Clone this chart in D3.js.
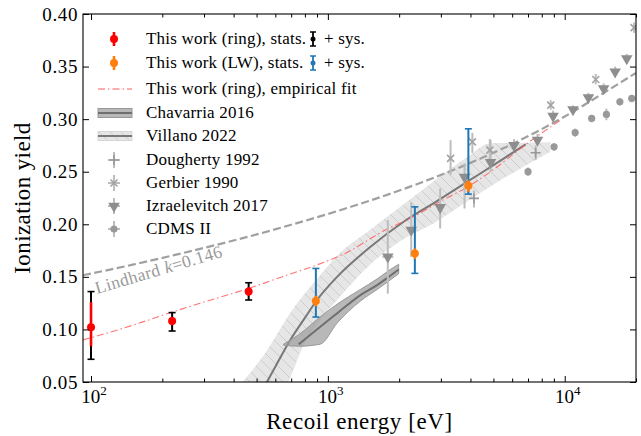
<!DOCTYPE html>
<meta charset="utf-8">
<style>
  body { margin: 0; background: #fff; }
  text { font-family: "Liberation Serif", "Times New Roman", serif; }
</style>
<body>
<svg id="chart" width="641" height="436"></svg>
<script src="https://cdn.jsdelivr.net/npm/d3@7/dist/d3.min.js"></script>
<script>
// ---- data ----
// this work, ring
var ringE = [100, 220, 463];
var ringY = [0.102, 0.108, 0.136];
var ringStatLo = [0.084, 0.104, 0.132];
var ringStatHi = [0.126, 0.112, 0.140];
var ringSysLo = [0.0716, 0.0985, 0.128];
var ringSysHi = [0.136, 0.116, 0.1444];

// this work, LW
var lwE = [890, 2330, 3920];
var lwY = [0.127, 0.1723, 0.2366];
var lwStatLo = [0.122, 0.167, 0.231];
var lwStatHi = [0.132, 0.177, 0.242];
var lwSysLo = [0.1118, 0.1533, 0.2287];
var lwSysHi = [0.158, 0.2166, 0.2908];

// empirical fit (ring)
var fitE = [92.5, 150, 220, 300, 463, 700, 890, 1200, 1667, 2330, 3000, 3920, 5000, 6950, 9600];
var fitY = [0.090, 0.104, 0.1165, 0.126, 0.139, 0.153, 0.161, 0.173, 0.192, 0.208, 0.222, 0.236, 0.252, 0.277, 0.299];

// Lindhard k=0.146
var lindE = [92.5, 150, 250, 400, 700, 1000, 1500, 2500, 4000, 6000, 10000, 15000, 20000];
var lindY = [0.1515, 0.1616, 0.1732, 0.1846, 0.1995, 0.2098, 0.2224, 0.2400, 0.2584, 0.2763, 0.3025, 0.3265, 0.3440];

// Chavarria 2016
var chavBandE = [650, 753, 929, 1094, 1372, 1614, 1808, 1991];
var chavLo = [0.085, 0.084, 0.086, 0.106, 0.127, 0.138, 0.146, 0.153];
var chavHi = [0.086, 0.095, 0.112, 0.124, 0.138, 0.148, 0.156, 0.162];
var chavLineE = [753, 929, 1094, 1372, 1614, 1808, 1991];
var chavY = [0.0858, 0.1026, 0.1153, 0.1327, 0.1422, 0.150, 0.157];

// Villano 2022
var villBandE = [436, 553, 681, 790, 900, 1094, 1514, 2090, 2800, 3882, 4865, 6842, 8700];
var villLo = [0.000, 0.020, 0.050, 0.085, 0.105, 0.128, 0.162, 0.186, 0.201, 0.222, 0.236, 0.256, 0.269];
var villHi = [0.050, 0.080, 0.113, 0.133, 0.148, 0.170, 0.195, 0.219, 0.241, 0.264, 0.277, 0.2775, 0.278];
var villLineE = [500, 553, 600, 694, 800, 900, 1094, 1514, 2090, 2800, 3882, 5356, 6842];
var villY = [0.032, 0.05, 0.0646, 0.09, 0.111, 0.128, 0.150, 0.1786, 0.2024, 0.2202, 0.2405, 0.2605, 0.276];

// Dougherty 1992
var dougE = [4140, 7540];
var dougY = [0.2246, 0.268];
var dougLo = [0.216, 0.261];
var dougHi = [0.232, 0.275];

// Gerbier 1990
var gerbE = [3297, 4075, 4830, 8730, 13520, 19630];
var gerbY = [0.2627, 0.2784, 0.2705, 0.3133, 0.3377, 0.387];
var gerbLo = [0.247, 0.268, 0.256, 0.309, 0.333, 0.382];
var gerbHi = [0.280, 0.287, 0.281, 0.318, 0.343, 0.392];

// Izraelevitch 2017
var izrE = [1791, 2249, 2980, 3776, 4865, 6109, 7675, 8930, 10840, 12590, 14600, 16330, 18280];
var izrY = [0.169, 0.1945, 0.216, 0.245, 0.259, 0.275, 0.280, 0.303, 0.309, 0.3206, 0.329, 0.345, 0.3576];
var izrLo = [0.134, 0.169, 0.196, 0.215, 0.250, 0.270, 0.276, 0.299, 0.305, 0.316, 0.325, 0.341, 0.353];
var izrHi = [0.204, 0.221, 0.234, 0.258, 0.280, 0.281, 0.286, 0.308, 0.313, 0.325, 0.334, 0.350, 0.362];
var izrELo = [1700, 2249, 2980, 3776, 4865, 6109, 7675, 8930, 10840, 12590, 14600, 16330, 18280];
var izrEHi = [1890, 2249, 2980, 3776, 4865, 6109, 7675, 8930, 10840, 12590, 14600, 16330, 18280];

// CDMS II
var cdmsE = [7000, 9020, 11070, 13000, 15000, 17100, 19190];
var cdmsY = [0.250, 0.2737, 0.2873, 0.3007, 0.3045, 0.3165, 0.3197];
var cdmsLo = [0.246, 0.270, 0.283, 0.297, 0.299, 0.313, 0.316];
var cdmsHi = [0.254, 0.277, 0.291, 0.304, 0.310, 0.320, 0.323];

var yTicks = [0.05, 0.10, 0.15, 0.20, 0.25, 0.30, 0.35, 0.40];
var xMajor = [100, 1000, 10000];
var xExp = ["2", "3", "4"];

// ---- layout ----
var svg = d3.select("#chart");
var pL = 83, pR = 636, pT = 14, pB = 382;

var x = d3.scaleLog().domain([92.5, 20000]).range([pL, pR]);
var y = d3.scaleLinear().domain([0.05, 0.40]).range([pB, pT]);

var xMinor = [];
[100, 1000, 10000].forEach(function(b) {
    for (var k = 2; k <= 9; k++) { if (b * k <= 20000) xMinor.push(b * k); }
});

var zip = function(a, b) { return a.map(function(v, i) { return [v, b[i]]; }); };

var defs = svg.append("defs");
defs.append("clipPath").attr("id", "plotclip")
    .append("rect").attr("x", pL).attr("y", pT)
    .attr("width", pR - pL).attr("height", pB - pT);

var hatch = defs.append("pattern").attr("id", "hatch")
    .attr("patternUnits", "userSpaceOnUse").attr("width", 11).attr("height", 11);
hatch.append("rect").attr("width", 11).attr("height", 11).attr("fill", "#e6e6e6");
hatch.append("path").attr("d", "M0,0L11,11M-1,10L1,12M10,-1L12,1")
    .attr("stroke", "#cdcdcd").attr("stroke-width", 1);

var plot = svg.append("g").attr("clip-path", "url(#plotclip)");

var line = d3.line()
    .x(function(d) { return x(d[0]); })
    .y(function(d) { return y(d[1]); })
    .curve(d3.curveMonotoneX);

var area = d3.area()
    .x(function(d) { return x(d[0]); })
    .y0(function(d) { return y(d[1]); })
    .y1(function(d) { return y(d[2]); })
    .curve(d3.curveMonotoneX);

// Villano band
plot.append("path")
    .datum(villBandE.map(function(e, i) { return [e, villLo[i], villHi[i]]; }))
    .attr("d", area).attr("fill", "url(#hatch)").attr("stroke", "none");
plot.append("path").datum(zip(villLineE, villY)).attr("d", line)
    .attr("fill", "none").attr("stroke", "#787878").attr("stroke-width", 2);

// Chavarria band
plot.append("path")
    .datum(chavBandE.map(function(e, i) { return [e, chavLo[i], chavHi[i]]; }))
    .attr("d", area).attr("fill", "#9a9a9a").attr("fill-opacity", 0.7).attr("stroke", "#999");
plot.append("path").datum(zip(chavLineE, chavY)).attr("d", line)
    .attr("fill", "none").attr("stroke", "#6f6f6f").attr("stroke-width", 2);

// Lindhard
plot.append("path").datum(zip(lindE, lindY)).attr("d", line)
    .attr("fill", "none").attr("stroke", "#a0a0a0").attr("stroke-width", 2.2)
    .attr("stroke-dasharray", "8,3.5");

// empirical fit
plot.append("path").datum(zip(fitE, fitY)).attr("d", line)
    .attr("fill", "none").attr("stroke", "#ff5a5a").attr("stroke-opacity", 0.85)
    .attr("stroke-width", 1.1).attr("stroke-dasharray", "7,3,1.5,3");

// grey data sets
function vbars(g, E, lo, hi, color, w) {
    g.selectAll(null).data(E).enter().append("line")
        .attr("x1", function(d) { return x(d); }).attr("x2", function(d) { return x(d); })
        .attr("y1", function(d, i) { return y(lo[i]); })
        .attr("y2", function(d, i) { return y(hi[i]); })
        .attr("stroke", color).attr("stroke-width", w);
}

var grey = plot.append("g");
var barCol = "#bdbdbd";

vbars(grey, dougE, dougLo, dougHi, barCol, 2);
vbars(grey, gerbE, gerbLo, gerbHi, barCol, 2);
vbars(grey, izrE, izrLo, izrHi, barCol, 2);
vbars(grey, cdmsE, cdmsLo, cdmsHi, barCol, 2);
grey.selectAll(null).data(izrE).enter().append("line")
    .attr("x1", function(d, i) { return x(izrELo[i]); })
    .attr("x2", function(d, i) { return x(izrEHi[i]); })
    .attr("y1", function(d, i) { return y(izrY[i]); })
    .attr("y2", function(d, i) { return y(izrY[i]); })
    .attr("stroke", barCol).attr("stroke-width", 2);

var plusPath = "M-5,0H5M0,-5V5";
var crossPath = "M-3.5,-3.5L3.5,3.5M-3.5,3.5L3.5,-3.5";
var triPath = d3.symbol().type(d3.symbolTriangle).size(58)();

function markers(g, E, Y, d, opts) {
    g.selectAll(null).data(E).enter().append("path")
        .attr("d", d)
        .attr("transform", function(e, i) {
            return "translate(" + x(e) + "," + y(Y[i]) + ")" + (opts.rot ? " rotate(180)" : "");
        })
        .attr("fill", opts.fill || "none")
        .attr("stroke", opts.stroke || "none")
        .attr("stroke-width", opts.sw || 0);
}
markers(grey, dougE, dougY, plusPath, { stroke: "#999", sw: 1.6 });
markers(grey, gerbE, gerbY, crossPath, { stroke: "#a3a3a3", sw: 1.6 });
markers(grey, izrE, izrY, triPath, { fill: "#8e8e8e", rot: true });
grey.selectAll(null).data(cdmsE).enter().append("circle")
    .attr("cx", function(d) { return x(d); })
    .attr("cy", function(d, i) { return y(cdmsY[i]); })
    .attr("r", 3.6).attr("fill", "#999");

// this work
function errbar(g, E, Y, sLo, sHi, yLo, yHi, colPt, colSys) {
    var cap = 3.5;
    E.forEach(function(e, i) {
        var cx = x(e);
        g.append("line").attr("x1", cx).attr("x2", cx)
            .attr("y1", y(yLo[i])).attr("y2", y(yHi[i]))
            .attr("stroke", colSys).attr("stroke-width", 2);
        [yLo[i], yHi[i]].forEach(function(v) {
            g.append("line").attr("x1", cx - cap).attr("x2", cx + cap)
                .attr("y1", y(v)).attr("y2", y(v))
                .attr("stroke", colSys).attr("stroke-width", 1.6);
        });
        g.append("line").attr("x1", cx).attr("x2", cx)
            .attr("y1", y(sLo[i])).attr("y2", y(sHi[i]))
            .attr("stroke", colPt).attr("stroke-width", 2.6);
        g.append("circle").attr("cx", cx).attr("cy", y(Y[i]))
            .attr("r", 4).attr("fill", colPt);
    });
}
var ours = svg.append("g");
errbar(ours, ringE, ringY, ringStatLo, ringStatHi, ringSysLo, ringSysHi, "#ff0000", "#000");
errbar(ours, lwE, lwY, lwStatLo, lwStatHi, lwSysLo, lwSysHi, "#ff7f0e", "#1f77b4");

// Lindhard label
svg.append("text")
    .attr("transform", "translate(97,294) rotate(-16.5)")
    .attr("fill", "#9a9a9a").attr("font-size", 17.5).attr("letter-spacing", 0.4)
    .html('Lindhard <tspan font-style="italic">k</tspan>=0.146');

// ---- axes ----
var axes = svg.append("g");
axes.append("g").attr("transform", "translate(0," + pB + ")")
    .call(d3.axisBottom(x).tickValues(xMajor).tickSize(-6).tickFormat(""));
axes.append("g").attr("transform", "translate(0," + pB + ")")
    .call(d3.axisBottom(x).tickValues(xMinor).tickSize(-3.5).tickFormat(""));
axes.append("g").attr("transform", "translate(0," + pT + ")")
    .call(d3.axisTop(x).tickValues(xMajor).tickSize(-6).tickFormat(""));
axes.append("g").attr("transform", "translate(0," + pT + ")")
    .call(d3.axisTop(x).tickValues(xMinor).tickSize(-3.5).tickFormat(""));
axes.append("g").attr("transform", "translate(" + pL + ",0)")
    .call(d3.axisLeft(y).tickValues(yTicks).tickSize(-6).tickPadding(5).tickFormat(d3.format(".2f")));
axes.append("g").attr("transform", "translate(" + pR + ",0)")
    .call(d3.axisRight(y).tickValues(yTicks).tickSize(-6).tickFormat(""));
axes.selectAll(".domain").remove();
axes.selectAll("line").attr("stroke", "#000").attr("stroke-width", 1);
axes.selectAll("text").attr("font-family", "Liberation Serif, serif")
    .attr("font-size", 19).attr("letter-spacing", 0.6).attr("fill", "#000");

axes.append("rect").attr("x", pL).attr("y", pT)
    .attr("width", pR - pL).attr("height", pB - pT)
    .attr("fill", "none").attr("stroke", "#000").attr("stroke-width", 1.1);

xMajor.forEach(function(v, i) {
    var t = axes.append("text").attr("x", x(v) + 3).attr("y", 403)
        .attr("text-anchor", "middle").attr("font-size", 19);
    t.append("tspan").text("10");
    t.append("tspan").attr("dy", -8).attr("font-size", 13).text(xExp[i]);
});

svg.append("text").attr("x", (pL + pR) / 2).attr("y", 429)
    .attr("text-anchor", "middle").attr("font-size", 23).attr("letter-spacing", 0.6)
    .text("Recoil energy [eV]");
svg.append("text").attr("transform", "translate(30," + ((pT + pB) / 2) + ") rotate(-90)")
    .attr("text-anchor", "middle").attr("font-size", 23).attr("letter-spacing", 0.4)
    .text("Ionization yield");

// ---- legend ----
var leg = svg.append("g").attr("font-size", 17).attr("letter-spacing", 0.2);
var rowY = [39, 63, 89, 113, 136, 160, 183, 206, 229];
var mx = 114, tx = 146;

function legErr(cx, cy, colBar, colPt, caps) {
    leg.append("line").attr("x1", cx).attr("x2", cx).attr("y1", cy - 7).attr("y2", cy + 7)
        .attr("stroke", colBar).attr("stroke-width", caps ? 1.8 : 2.6);
    if (caps) {
        [cy - 7, cy + 7].forEach(function(v) {
            leg.append("line").attr("x1", cx - 3).attr("x2", cx + 3).attr("y1", v).attr("y2", v)
                .attr("stroke", colBar).attr("stroke-width", 1.5);
        });
    }
    leg.append("circle").attr("cx", cx).attr("cy", cy).attr("r", caps ? 2.5 : 4).attr("fill", colPt);
}

legErr(mx, rowY[0], "#ff0000", "#ff0000", false);
leg.append("text").attr("x", tx).attr("y", rowY[0] + 5).text("This work (ring), stats.");
legErr(313, rowY[0], "#000", "#000", true);
leg.append("text").attr("x", 324).attr("y", rowY[0] + 5).text("+ sys.");

legErr(mx, rowY[1], "#ff7f0e", "#ff7f0e", false);
leg.append("text").attr("x", tx).attr("y", rowY[1] + 5).text("This work (LW), stats.");
legErr(313, rowY[1], "#1f77b4", "#1f77b4", true);
leg.append("text").attr("x", 324).attr("y", rowY[1] + 5).text("+ sys.");

leg.append("line").attr("x1", 98).attr("x2", 132).attr("y1", rowY[2]).attr("y2", rowY[2])
    .attr("stroke", "#ff5a5a").attr("stroke-width", 1.1).attr("stroke-dasharray", "7,3,1.5,3");
leg.append("text").attr("x", tx).attr("y", rowY[2] + 5).text("This work (ring), empirical fit");

leg.append("rect").attr("x", 98).attr("y", rowY[3] - 4.5).attr("width", 34).attr("height", 9)
    .attr("fill", "#9a9a9a").attr("fill-opacity", 0.7).attr("stroke", "#999");
leg.append("line").attr("x1", 98).attr("x2", 132).attr("y1", rowY[3]).attr("y2", rowY[3])
    .attr("stroke", "#6f6f6f").attr("stroke-width", 2);
leg.append("text").attr("x", tx).attr("y", rowY[3] + 5).text("Chavarria 2016");

leg.append("rect").attr("x", 98).attr("y", rowY[4] - 4.5).attr("width", 34).attr("height", 9)
    .attr("fill", "url(#hatch)").attr("stroke", "#d6d6d6");
leg.append("line").attr("x1", 98).attr("x2", 132).attr("y1", rowY[4]).attr("y2", rowY[4])
    .attr("stroke", "#787878").attr("stroke-width", 2);
leg.append("text").attr("x", tx).attr("y", rowY[4] + 5).text("Villano 2022");

function legGrey(cy, d, opts, label) {
    leg.append("line").attr("x1", mx).attr("x2", mx).attr("y1", cy - 8).attr("y2", cy + 8)
        .attr("stroke", barCol).attr("stroke-width", 2);
    leg.append("line").attr("x1", mx - 6).attr("x2", mx + 6).attr("y1", cy).attr("y2", cy)
        .attr("stroke", barCol).attr("stroke-width", 2);
    if (d === "circle") {
        leg.append("circle").attr("cx", mx).attr("cy", cy).attr("r", 3.6).attr("fill", "#999");
    } else {
        leg.append("path").attr("d", d)
            .attr("transform", "translate(" + mx + "," + cy + ")" + (opts.rot ? " rotate(180)" : ""))
            .attr("fill", opts.fill || "none").attr("stroke", opts.stroke || "none")
            .attr("stroke-width", opts.sw || 0);
    }
    leg.append("text").attr("x", tx).attr("y", cy + 5).text(label);
}
legGrey(rowY[5], plusPath, { stroke: "#999", sw: 1.6 }, "Dougherty 1992");
legGrey(rowY[6], crossPath, { stroke: "#a3a3a3", sw: 1.6 }, "Gerbier 1990");
legGrey(rowY[7], triPath, { fill: "#8e8e8e", rot: true }, "Izraelevitch 2017");
legGrey(rowY[8], "circle", {}, "CDMS II");
</script>
</body>
